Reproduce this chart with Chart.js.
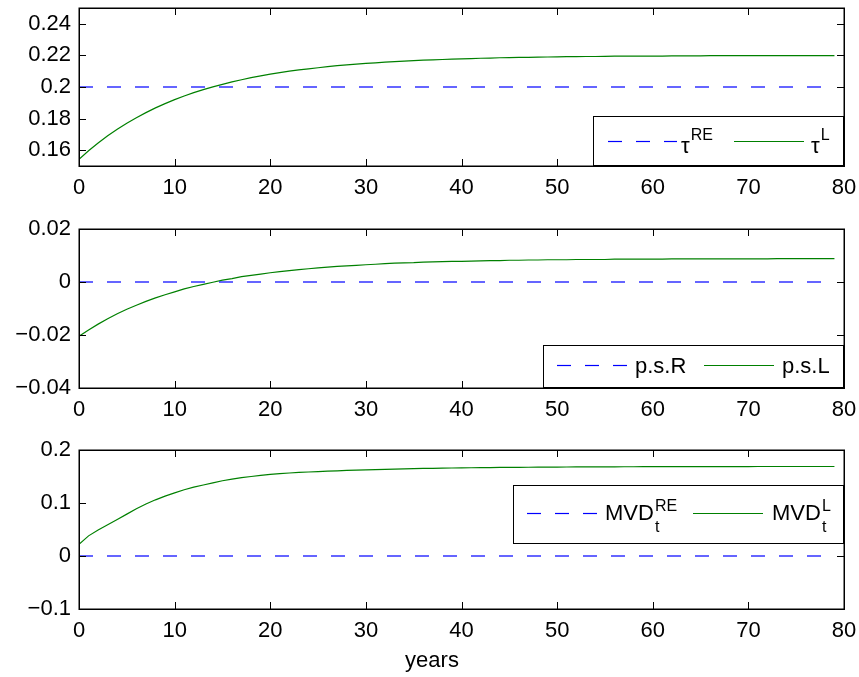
<!DOCTYPE html>
<html>
<head>
<meta charset="utf-8">
<script src="https://cdn.jsdelivr.net/npm/chart.js@4.4.0/dist/chart.umd.min.js"></script>
<style>
  body { margin: 0; background: #fff; }
  #wrap { position: relative; width: 859px; height: 677px; overflow: hidden; background: #fff; }
  canvas { position: absolute; left: 0; }
</style>
</head>
<body>
<div id="wrap">
  <canvas id="c1"></canvas>
  <canvas id="c2"></canvas>
  <canvas id="c3"></canvas>
</div>
<script>
// data (years 0..79)
const years = [0,1,2,3,4,5,6,7,8,9,10,11,12,13,14,15,16,17,18,19,
  20,21,22,23,24,25,26,27,28,29,30,31,32,33,34,35,36,37,38,39,
  40,41,42,43,44,45,46,47,48,49,50,51,52,53,54,55,56,57,58,59,
  60,61,62,63,64,65,66,67,68,69,70,71,72,73,74,75,76,77,78,79];
const reYears = [0, 79];

const tauRE = [0.2, 0.2];
const tauL = [0.1542, 0.1596, 0.1645, 0.1691, 0.1733, 0.1771, 0.1806, 0.1838, 0.1868, 0.1895,
  0.1920, 0.1943, 0.1964, 0.1983, 0.2001, 0.2017, 0.2032, 0.2046, 0.2059, 0.2070,
  0.2081, 0.2091, 0.2100, 0.2108, 0.2115, 0.2122, 0.2129, 0.2135, 0.2140, 0.2145,
  0.2149, 0.2153, 0.2157, 0.2161, 0.2164, 0.2167, 0.2170, 0.2172, 0.2174, 0.2177,
  0.2178, 0.2180, 0.2182, 0.2183, 0.2185, 0.2186, 0.2187, 0.2188, 0.2189, 0.2190,
  0.2191, 0.2192, 0.2192, 0.2193, 0.2193, 0.2194, 0.2195, 0.2195, 0.2195, 0.2196,
  0.2196, 0.2196, 0.2197, 0.2197, 0.2197, 0.2197, 0.2198, 0.2198, 0.2198, 0.2198,
  0.2198, 0.2199, 0.2199, 0.2199, 0.2199, 0.2199, 0.2199, 0.2199, 0.2199, 0.2199];

const psR = [0, 0];
const psL = [-0.0205, -0.0181, -0.0159, -0.0139, -0.0120, -0.0103, -0.0088, -0.0073, -0.0060, -0.0048,
  -0.0037, -0.0026, -0.0017, -0.0009, -0.0001, 0.0007, 0.0013, 0.0020, 0.0025, 0.0030,
  0.0035, 0.0039, 0.0043, 0.0047, 0.0050, 0.0053, 0.0056, 0.0059, 0.0061, 0.0063,
  0.0065, 0.0067, 0.0069, 0.0071, 0.0072, 0.0073, 0.0075, 0.0076, 0.0077, 0.0078,
  0.0078, 0.0079, 0.0080, 0.0081, 0.0081, 0.0082, 0.0082, 0.0083, 0.0083, 0.0084,
  0.0084, 0.0084, 0.0085, 0.0085, 0.0085, 0.0085, 0.0086, 0.0086, 0.0086, 0.0086,
  0.0086, 0.0086, 0.0087, 0.0087, 0.0087, 0.0087, 0.0087, 0.0087, 0.0087, 0.0087,
  0.0087, 0.0087, 0.0087, 0.0088, 0.0088, 0.0088, 0.0088, 0.0088, 0.0088, 0.0088];

const mvdRE = [0, 0];
const mvdL = [0.022, 0.038, 0.049, 0.059, 0.069, 0.079, 0.089, 0.098, 0.106, 0.113,
  0.119, 0.125, 0.130, 0.134, 0.138, 0.142, 0.145, 0.148, 0.150, 0.152,
  0.154, 0.1555, 0.1566, 0.1576, 0.1585, 0.1593, 0.1601, 0.1608, 0.1614, 0.1620,
  0.1626, 0.1631, 0.1636, 0.1641, 0.1645, 0.1648, 0.1652, 0.1655, 0.1658, 0.1660,
  0.1663, 0.1665, 0.1667, 0.1669, 0.1671, 0.1672, 0.1674, 0.1675, 0.1676, 0.1677,
  0.1678, 0.1679, 0.1680, 0.1681, 0.1682, 0.1682, 0.1683, 0.1684, 0.1684, 0.1685,
  0.1685, 0.1686, 0.1686, 0.1686, 0.1687, 0.1687, 0.1687, 0.1688, 0.1688, 0.1688,
  0.1688, 0.1689, 0.1689, 0.1689, 0.1689, 0.1689, 0.1689, 0.1689, 0.1689, 0.1689];

const xTicks = [0, 10, 20, 30, 40, 50, 60, 70, 80];
const yTicks1 = [0.16, 0.18, 0.2, 0.22, 0.24];
const yTicks2 = [-0.04, -0.02, 0, 0.02];
const yTicks3 = [-0.1, 0, 0.1, 0.2];

// legend labels: [text, 0 = normal, -1 = superscript, 1 = subscript]
const labels1 = [[['\u03c4', 0], ['RE', -1]], [['\u03c4', 0], ['L', -1]]];
const labels2 = [[['p.s.R', 0]], [['p.s.L', 0]]];
const labels3 = [[['MVD', 0], ['RE', -1], ['t', 1]], [['MVD', 0], ['L', -1], ['t', 1]]];

const FONT = '"Liberation Sans", Arial, Helvetica, sans-serif';
Chart.defaults.font.family = FONT;
Chart.defaults.font.size = 22;
Chart.defaults.color = '#000';

const PAD_TOP = 24;

function fmt(v) {
  return String(v).replace('-', '\u2212');
}

// matlab style box with inward ticks on all four sides
const matBox = {
  id: 'matBox',
  afterDatasetsDraw(chart, args, o) {
    const {ctx, chartArea: a, scales: {x, y}} = chart;
    ctx.save();
    ctx.strokeStyle = '#000';
    ctx.lineWidth = 1;
    ctx.beginPath();
    x.ticks.forEach(t => {
      const px = Math.round(x.getPixelForValue(t.value)) + 0.5;
      ctx.moveTo(px, a.bottom); ctx.lineTo(px, a.bottom - 7);
      ctx.moveTo(px, a.top); ctx.lineTo(px, a.top + 7);
    });
    y.ticks.forEach(t => {
      const py = Math.round(y.getPixelForValue(t.value)) + 0.5;
      ctx.moveTo(a.left, py); ctx.lineTo(a.left + 7, py);
      ctx.moveTo(a.right, py); ctx.lineTo(a.right - 7, py);
    });
    ctx.stroke();
    ctx.lineWidth = 1.5;
    ctx.strokeRect(Math.round(a.left) + 0.25, Math.round(a.top) + 0.25,
      Math.round(a.width), Math.round(a.height));
    if (o && o.title) {
      ctx.fillStyle = '#000';
      ctx.font = '22px ' + FONT;
      ctx.textAlign = 'center';
      ctx.textBaseline = 'alphabetic';
      ctx.fillText(o.title, o.titleX, o.titleY - o.offsetY);
    }
    ctx.restore();
  }
};

const matLegend = {
  id: 'matLegend',
  afterDraw(chart, args, o) {
    if (!o.box) return;
    const ctx = chart.ctx;
    const dy = -o.offsetY;
    const b = o.box;
    ctx.save();
    ctx.fillStyle = '#fff';
    ctx.fillRect(b[0], b[1] + dy, b[2] - b[0], b[3] - b[1]);
    ctx.strokeStyle = '#000';
    ctx.lineWidth = 1;
    ctx.strokeRect(b[0] + 0.5, b[1] + dy + 0.5, b[2] - b[0], b[3] - b[1]);
    o.items.forEach((it, i) => {
      const ds = chart.data.datasets[i];
      ctx.strokeStyle = ds.borderColor;
      ctx.lineWidth = 1.2;
      ctx.setLineDash(ds.borderDash || []);
      ctx.beginPath();
      ctx.moveTo(it.x1, o.y + dy + 0.5);
      ctx.lineTo(it.x2, o.y + dy + 0.5);
      ctx.stroke();
      ctx.setLineDash([]);
      ctx.fillStyle = '#000';
      ctx.textBaseline = 'alphabetic';
      ctx.textAlign = 'left';
      let tx = it.tx, scriptX = tx;
      o.labels[i].forEach(([t, kind]) => {
        if (kind === 0) {
          ctx.font = '22px ' + FONT;
          ctx.fillText(t, tx, o.baseY + dy);
          tx += ctx.measureText(t).width;
          scriptX = tx;
        } else {
          ctx.font = '16px ' + FONT;
          const off = kind < 0 ? o.supDy : o.subDy;
          ctx.fillText(t, scriptX + 1, o.baseY + dy + off);
        }
      });
    });
    ctx.restore();
  }
};

function drawPanel(id, boxTop, boxH, xh, yMin, yMax, yTicks, blue, green, names, legend, title) {
  const canvas = document.getElementById(id);
  const top = boxTop - PAD_TOP;
  canvas.width = 880;
  canvas.height = PAD_TOP + boxH + xh;
  canvas.style.top = top + 'px';
  legend.offsetY = top;
  const boxOpts = Object.assign({offsetY: top}, title || {});
  new Chart(canvas, {
    type: 'line',
    data: {
      datasets: [{
        label: names[0],
        data: reYears.map((x, i) => ({x: x, y: blue[i]})),
        borderColor: '#0000ff',
        borderDash: [14, 14],
        borderWidth: 1.2,
        pointRadius: 0,
        tension: 0
      }, {
        label: names[1],
        data: years.map((x, i) => ({x: x, y: green[i]})),
        borderColor: '#008000',
        borderWidth: 1.2,
        pointRadius: 0,
        tension: 0
      }]
    },
    options: {
      responsive: false,
      animation: false,
      devicePixelRatio: 1,
      layout: { padding: { top: PAD_TOP, right: 880 - 844, left: 0, bottom: 0 } },
      plugins: {
        legend: { display: false },
        tooltip: { enabled: false },
        matLegend: legend,
        matBox: boxOpts
      },
      scales: {
        x: {
          type: 'linear',
          min: 0, max: 80,
          afterBuildTicks: s => { s.ticks = xTicks.map(v => ({value: v})); },
          afterFit: s => { s.height = xh; },
          grid: { display: false, drawTicks: false },
          border: { display: false },
          ticks: { padding: 9, maxRotation: 0, autoSkip: false, callback: v => fmt(v) }
        },
        y: {
          min: yMin, max: yMax,
          afterBuildTicks: s => { s.ticks = yTicks.map(v => ({value: v})); },
          afterFit: s => { s.width = 79; },
          grid: { display: false, drawTicks: false },
          border: { display: false },
          ticks: { padding: 8, autoSkip: false, callback: v => fmt(v) }
        }
      }
    },
    plugins: [matBox, matLegend]
  });
}

drawPanel('c1', 8, 158, 40, 0.15, 0.25, yTicks1, tauRE, tauL, ['\u03c4RE', '\u03c4L'], {
  box: [593, 116, 843, 165], y: 141, baseY: 153, supDy: -13, subDy: 12, labels: labels1,
  items: [{x1: 608, x2: 677, tx: 681}, {x1: 734, x2: 804, tx: 811}]
});
drawPanel('c2', 229, 159, 40, -0.04, 0.02, yTicks2, psR, psL, ['p.s.R', 'p.s.L'], {
  box: [543, 345, 843, 387], y: 365, baseY: 373, supDy: -13, subDy: 12, labels: labels2,
  items: [{x1: 557, x2: 627, tx: 635}, {x1: 704, x2: 774, tx: 782}]
});
drawPanel('c3', 450, 159, 68, -0.1, 0.2, yTicks3, mvdRE, mvdL, ['MVD_t RE', 'MVD_t L'], {
  box: [513, 485, 843, 543], y: 513, baseY: 520, supDy: -9.5, subDy: 11.5, labels: labels3,
  items: [{x1: 527, x2: 597, tx: 605}, {x1: 693, x2: 763, tx: 772}]
}, {title: 'years', titleX: 432, titleY: 667});
</script>
</body>
</html>
